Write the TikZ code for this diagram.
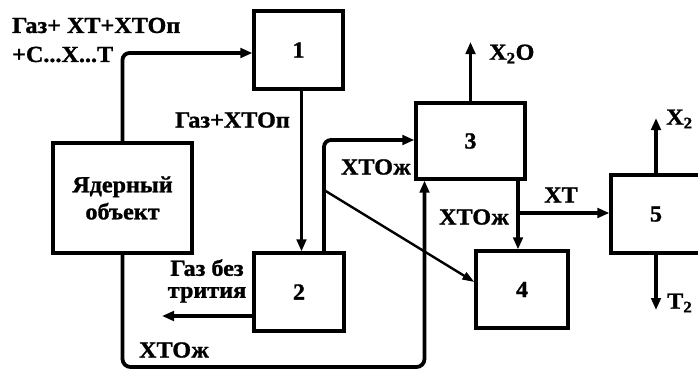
\documentclass[tikz,border=0pt]{standalone}
\usepackage{fontspec}
\setmainfont{Liberation Serif}[FakeStretch=1.05, BoldFeatures={FakeBold=1.2}]
\usetikzlibrary{arrows.meta,calc}
\tikzset{
 box/.style={draw, line width=3.2pt, inner sep=0pt, align=center, font=\fontsize{23}{27}\selectfont\bfseries},
 lbl/.style={font=\fontsize{23}{25}\selectfont\bfseries, inner sep=0pt},
 flow/.style={line width=3.8pt, -{Triangle[length=12pt,width=9.5pt]}},
 thinflow/.style={line width=2.4pt, -{Triangle[length=12pt,width=8pt]}},
}
\begin{document}
\begin{tikzpicture}[x=1pt,y=-1pt]
\useasboundingbox (0,0) rectangle (698,372);
\clip (0,0) rectangle (698,372);
% boxes
\node[box, minimum width=89pt, minimum height=78pt] (b1) at (298.5,50) {1};
\node[box, minimum width=139pt, minimum height=110pt] (obj) at (122.5,198) {Ядерный\\объект};
\node[box, minimum width=90pt, minimum height=78pt] (b2) at (299,292) {2};
\node[box, minimum width=109pt, minimum height=76pt] (b3) at (470.5,141) {3};
\node[box, minimum width=92pt, minimum height=77pt] (b4) at (522,289.5) {4};
\node[box, minimum width=90pt, minimum height=78pt] (b5) at (656,214) {5};
% helper coordinates
\coordinate (split) at ([xshift=25pt]b2.north |- 0,190);
\coordinate (x2o) at (472,42);
\coordinate (x2) at (656,118);
\coordinate (t2) at (656,310);
\coordinate (gout) at (162,316);
\coordinate (loopy) at (0,367);
\coordinate (br) at ([xshift=47.5pt]b3.south |- 0,213);
% connectors
\draw[flow, rounded corners=7pt] (obj.north) |- ([yshift=-3pt]b1.west);
\draw[flow] ([xshift=3pt]b1.south) -- ([xshift=3pt]b1.south |- b2.north);
\draw[flow, rounded corners=7pt] ([xshift=25pt]b2.north) |- ([yshift=1pt]b3.west);
\draw[thinflow] (split) -- ([yshift=7.5pt]b4.west);
\draw[flow] (b3.north) -- (b3.north |- x2o);
\draw[flow] ([xshift=47.5pt]b3.south) -- ([xshift=47.5pt]b3.south |- b4.north);
\draw[flow] (br) -- (br -| b5.west);
\draw[flow] (b5.north) -- (b5.north |- x2);
\draw[flow] (b5.south) -- (b5.south |- t2);
\draw[flow] ([yshift=-24pt]b2.west) -- ([yshift=-24pt]b2.west -| gout);
\draw[flow, rounded corners=8pt] (obj.south) |- ([xshift=-46pt]b3.south |- loopy) -- ([xshift=-46pt]b3.south);
% labels
\node[lbl, anchor=west, align=left, font=\fontsize{23}{29}\selectfont\bfseries] (tl) at (12,40) {Газ+ ХТ+ХТОп\\+С...Х...Т};
\node[lbl, anchor=east] (l2) at (290,120) {Газ+ХТОп};
\node[lbl, anchor=east] (l3) at (411,167) {ХТОж};
\node[lbl, align=center] (l4) at (207,281) {Газ без\\[-3pt]трития};
\node[lbl] (l5) at (174,350) {ХТОж};
\node[lbl] (l6) at (561,195) {ХТ};
\node[lbl] (l7) at (474,217) {ХТОж};
\node[lbl, anchor=west] (l8) at (489,54) {Х\textsubscript{2}О};
\node[lbl, anchor=west] (l9) at (666,119) {Х\textsubscript{2}};
\node[lbl, anchor=west] (l10) at (667,303) {Т\textsubscript{2}};
\end{tikzpicture}
\end{document}
